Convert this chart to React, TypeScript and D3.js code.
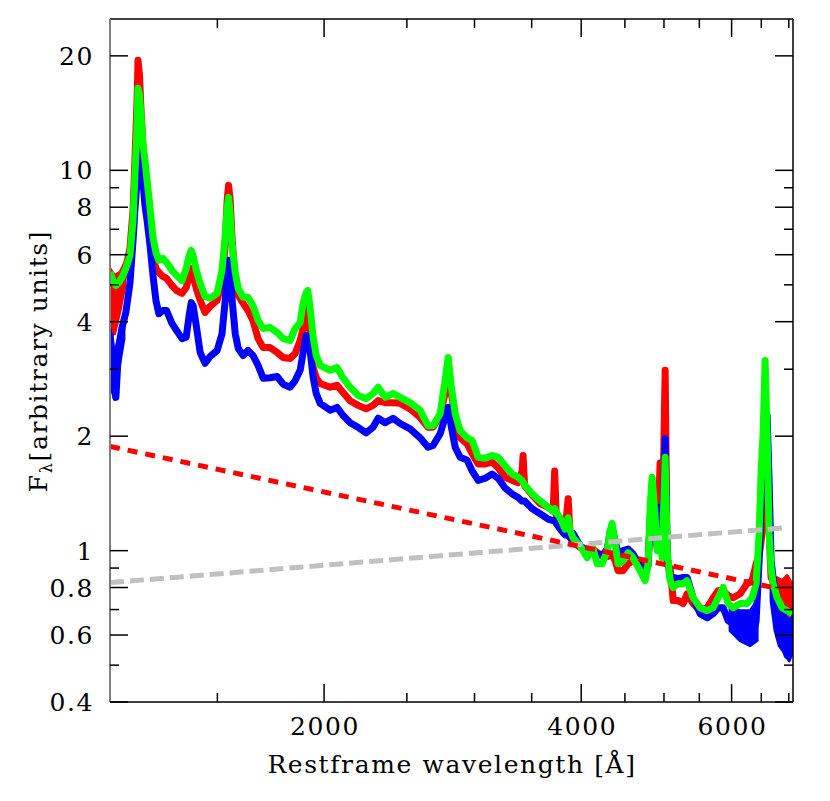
import * as d3 from "d3"

// Restframe wavelength grid [Å] shared by the three spectra
const wavelength = [
  1123, 1132, 1141, 1150, 1160, 1172, 1185, 1195, 1201, 1208, 1211, 1216, 1221, 1228, 1234, 1241,
  1251, 1261, 1271, 1281, 1295, 1308, 1327, 1344, 1364, 1379, 1390, 1398, 1405, 1417, 1432, 1451,
  1471, 1499, 1519, 1532, 1540, 1546, 1553, 1561, 1574, 1587, 1608, 1629, 1651, 1674, 1697, 1729,
  1762, 1791, 1825, 1850, 1875, 1890, 1906, 1914, 1926, 1942, 1958, 1979, 2033, 2071, 2104, 2145,
  2192, 2240, 2282, 2314, 2358, 2409, 2455, 2522, 2591, 2647, 2683, 2735, 2771, 2795, 2817, 2848,
  2886, 2941, 2981, 3030, 3088, 3146, 3198, 3259, 3321, 3375, 3411, 3420, 3434, 3504, 3581, 3659,
  3709, 3724, 3739, 3779, 3830, 3862, 3882, 3914, 3989, 4065, 4120, 4176, 4233, 4291, 4325, 4348,
  4384, 4419, 4478, 4539, 4600, 4688, 4752, 4791, 4817, 4843, 4883, 4910, 4948, 4975, 5016, 5043,
  5084, 5126, 5195, 5265, 5322, 5408, 5512, 5617, 5709, 5786, 5865, 5945, 6026, 6139, 6255, 6341,
  6410, 6462, 6497, 6532, 6567, 6603, 6638, 6674, 6710, 6783, 6876, 6970, 7065,
]

const redFlux = [
  4.69, 4.03, 4.41, 4.83, 5.13, 5.52, 6.24, 7.85, 10.62, 15.29, 19.48, 17.78, 14.38, 11.29, 9.7, 8.34,
  6.75, 5.97, 5.52, 5.39, 5.26, 5.2, 4.98, 4.83, 4.75, 4.92, 5.26, 5.52, 5.29, 4.89, 4.55, 4.23,
  4.39, 4.55, 5.13, 6.35, 8.34, 9.13, 8.34, 6.54, 5.13, 4.69, 4.47, 4.28, 4.03, 3.61, 3.42, 3.42,
  3.32, 3.22, 3.2, 3.3, 3.57, 3.84, 4.28, 4.36, 3.72, 3.03, 2.85, 2.75, 2.69, 2.72, 2.61, 2.48,
  2.41, 2.36, 2.41, 2.48, 2.45, 2.45, 2.44, 2.36, 2.24, 2.11, 2.11, 2.27, 2.59, 2.85, 2.61, 2.24,
  1.98, 1.91, 1.8, 1.69, 1.69, 1.71, 1.65, 1.56, 1.53, 1.51, 1.62, 1.78, 1.48, 1.4, 1.33, 1.3,
  1.27, 1.62, 1.24, 1.2, 1.13, 1.37, 1.1, 1.05, 1.02, 1.0, 1.01, 0.99, 0.97, 0.965, 0.97, 0.98,
  0.94, 0.886, 0.886, 0.924, 0.941, 0.93, 0.913, 0.941, 1.2, 1.48, 1.2, 1.01, 1.7, 1.03, 2.98, 0.924,
  0.9, 0.739, 0.739, 0.726, 0.77, 0.726, 0.695, 0.708, 0.752, 0.785, 0.785, 0.761, 0.752, 0.77, 0.819, 0.834,
  0.924, 0.97, 1.06, 1.2, 1.35, 1.31, 1.13, 0.85, 0.834, 0.739, 0.761, 0.695, 0.717,
]

const greenFlux = [
  5.4, 5.13, 4.98, 5.07, 5.23, 5.52, 5.97, 7.39, 9.7, 13.13, 16.44, 15.75, 13.95, 11.63, 10.62, 9.41,
  7.99, 6.67, 6.08, 5.8, 5.87, 5.73, 5.46, 5.29, 5.13, 5.52, 5.97, 6.16, 5.97, 5.46, 5.04, 4.66,
  4.61, 4.75, 5.46, 6.75, 7.94, 8.49, 7.61, 6.35, 5.39, 4.89, 4.64, 4.64, 4.41, 4.03, 3.84, 3.86,
  3.75, 3.61, 3.57, 3.84, 3.98, 4.47, 4.77, 4.83, 4.36, 3.64, 3.26, 3.07, 2.98, 3.03, 2.85, 2.69,
  2.56, 2.51, 2.59, 2.69, 2.53, 2.59, 2.53, 2.45, 2.34, 2.13, 2.13, 2.29, 2.8, 3.22, 2.72, 2.29,
  2.07, 1.98, 1.95, 1.76, 1.75, 1.78, 1.76, 1.67, 1.59, 1.56, 1.53, 1.51, 1.49, 1.41, 1.35, 1.3,
  1.27, 1.29, 1.26, 1.22, 1.14, 1.22, 1.13, 1.08, 1.03, 0.958, 1.03, 0.924, 0.924, 1.0, 1.13, 1.18,
  1.04, 0.924, 0.941, 0.988, 0.958, 0.886, 0.834, 0.924, 1.31, 1.56, 1.22, 1.0, 1.08, 0.958, 1.76, 1.0,
  0.834, 0.8, 0.819, 0.819, 0.834, 0.752, 0.708, 0.695, 0.708, 0.752, 0.8, 0.726, 0.708, 0.726, 0.726, 0.752,
  0.819, 1.11, 1.62, 2.03, 3.16, 2.03, 1.11, 0.9, 0.819, 0.752, 0.708, 0.695, 0.683,
]

const blueFlux = [
  3.72, 3.07, 2.53, 3.46, 3.86, 4.23, 5.04, 6.54, 7.85, 9.41, 10.31, 11.29, 11.29, 9.24, 8.09, 7.39,
  6.35, 5.29, 4.55, 4.2, 4.28, 4.28, 3.96, 3.79, 3.61, 3.64, 4.15, 4.49, 4.41, 3.91, 3.32, 3.11,
  3.24, 3.36, 3.72, 4.55, 5.46, 5.8, 5.4, 4.55, 3.72, 3.4, 3.26, 3.36, 3.26, 3.07, 2.84, 2.85,
  2.87, 2.74, 2.69, 2.8, 2.98, 3.32, 3.68, 3.61, 3.36, 2.85, 2.59, 2.44, 2.34, 2.38, 2.27, 2.17,
  2.11, 2.04, 2.11, 2.23, 2.17, 2.23, 2.16, 2.09, 1.98, 1.87, 1.89, 2.03, 2.24, 2.38, 2.13, 1.87,
  1.76, 1.73, 1.62, 1.53, 1.55, 1.59, 1.55, 1.46, 1.41, 1.38, 1.35, 1.35, 1.35, 1.29, 1.25, 1.21,
  1.2, 1.2, 1.18, 1.14, 1.1, 1.1, 1.08, 1.11, 1.03, 1.0, 1.0, 0.98, 0.97, 1.01, 1.12, 1.15,
  1.06, 0.98, 1.0, 1.01, 0.98, 0.913, 0.87, 0.913, 1.2, 1.44, 1.16, 1.03, 1.3, 1.0, 1.97, 0.97,
  0.85, 0.85, 0.844, 0.85, 0.85, 0.752, 0.683, 0.666, 0.683, 0.708, 0.708, 0.654, 0.643, 0.616, 0.627, 0.58,
  0.654, 0.941, 1.35, 1.83, 2.2, 2.27, 1.53, 0.941, 0.85, 0.666, 0.58, 0.53, 0.563,
]

// noisy ends of the spectra: upper / lower envelope of the scatter
const redLeftWave = [1123, 1137, 1154, 1169]
const redLeftHigh = [5.52, 5.29, 5.39, 5.73]
const redLeftLow = [3.68, 3.72, 4.28, 4.98]
const blueLeftWave = [1123, 1137, 1150, 1166]
const blueLeftHigh = [3.84, 3.3, 3.6, 4.1]
const blueLeftLow = [2.75, 2.5, 3.0, 3.6]
const redRightWave = [6710, 6783, 6876, 6970, 7080]
const redRightHigh = [0.849, 0.849, 0.834, 0.86, 0.809]
const redRightLow = [0.717, 0.695, 0.69, 0.687, 0.654]
const blueRightWave = [6674, 6746, 6820, 6913, 7007, 7080]
const blueRightHigh = [0.941, 0.739, 0.708, 0.687, 0.654, 0.675]
const blueRightLow = [0.739, 0.616, 0.563, 0.54, 0.513, 0.546]
const blueMidWave = [5976, 6139, 6307, 6427]
const blueMidHigh = [0.708, 0.695, 0.695, 0.739]
const blueMidLow = [0.616, 0.58, 0.563, 0.58]

// dashed reference lines (straight in log-log)
const powerLawWave = [1123, 6711]
const powerLawFlux = [1.88, 0.8]
const hostWave = [1123, 6970]
const hostFlux = [0.824, 1.15]

// axis ticks
const xMajorTicks = [2000, 4000, 6000]
const xMinorTicks = [1500, 2500, 3000, 3500, 4500, 5000, 5500, 6500, 7000]
const yMajorTicks = [0.4, 0.6, 0.8, 1, 2, 4, 6, 8, 10, 20]
const yMinorTicks = [0.5, 0.7, 0.9, 3, 5, 7, 9]

const FONT = "'DejaVu Serif', serif"

export default function App() {
  const left = 110
  const right = 793
  const top = 19
  const bottom = 702

  const x = d3.scaleLog().domain([1123, 7080]).range([left, right])
  const y = d3.scaleLog().domain([0.4, 25]).range([bottom, top])

  const line = d3
    .line<[number, number]>()
    .x((d) => x(d[0]))
    .y((d) => y(d[1]))

  const band = d3
    .area<[number, number, number]>()
    .x((d) => x(d[0]))
    .y0((d) => y(d[2]))
    .y1((d) => y(d[1]))

  const series = (flux: number[]) => wavelength.map((w, i) => [w, flux[i]] as [number, number])
  const pairs = (w: number[], f: number[]) => w.map((v, i) => [v, f[i]] as [number, number])
  const triples = (w: number[], hi: number[], lo: number[]) =>
    w.map((v, i) => [v, hi[i], lo[i]] as [number, number, number])

  const majorLen = 18
  const minorLen = 9
  const specWidth = 7

  return (
    <svg width={830} height={801} style={{ position: "absolute", left: 0, top: 0, background: "#fff" }}>
      <defs>
        <clipPath id="plot">
          <rect x={left} y={top} width={right - left} height={bottom - top} />
        </clipPath>
      </defs>

      <g clipPath="url(#plot)" strokeLinejoin="round">
        <path d={band(triples(redLeftWave, redLeftHigh, redLeftLow)) || ""} fill="#ff0000" stroke="#ff0000" strokeWidth={3} />
        <path d={band(triples(redRightWave, redRightHigh, redRightLow)) || ""} fill="#ff0000" stroke="#ff0000" strokeWidth={3} />
        <path d={line(series(redFlux)) || ""} fill="none" stroke="#ff0000" strokeWidth={specWidth} />
        <path d={band(triples(blueLeftWave, blueLeftHigh, blueLeftLow)) || ""} fill="#0000ff" stroke="#0000ff" strokeWidth={3} />
        <path d={band(triples(blueMidWave, blueMidHigh, blueMidLow)) || ""} fill="#0000ff" stroke="#0000ff" strokeWidth={3} />
        <path d={band(triples(blueRightWave, blueRightHigh, blueRightLow)) || ""} fill="#0000ff" stroke="#0000ff" strokeWidth={3} />
        <path d={line(series(blueFlux)) || ""} fill="none" stroke="#0000ff" strokeWidth={specWidth} />
        <path d={line(series(greenFlux)) || ""} fill="none" stroke="#00ff00" strokeWidth={specWidth} />
        <path
          d={line(pairs(hostWave, hostFlux)) || ""}
          fill="none"
          stroke="#c0c0c0"
          strokeWidth={5}
          strokeDasharray="14,6"
        />
        <path
          d={line(pairs(powerLawWave, powerLawFlux)) || ""}
          fill="none"
          stroke="#ff0000"
          strokeWidth={5}
          strokeDasharray="10,8"
        />
      </g>

      {/* frame */}
      <line x1={left} x2={right} y1={top} y2={top} stroke="#000" strokeWidth={1.5} />
      <line x1={left} x2={right} y1={bottom} y2={bottom} stroke="#000" strokeWidth={1.5} />
      <line x1={right} x2={right} y1={top} y2={bottom} stroke="#000" strokeWidth={1.5} />
      <line x1={left} x2={left} y1={top} y2={bottom} stroke="#808080" strokeWidth={2} />

      {/* ticks on all four sides */}
      <g stroke="#000" strokeWidth={1.5}>
        {xMajorTicks.map((t) => (
          <g key={"xM" + t}>
            <line x1={x(t)} x2={x(t)} y1={bottom} y2={bottom - majorLen} />
            <line x1={x(t)} x2={x(t)} y1={top} y2={top + majorLen} />
          </g>
        ))}
        {xMinorTicks.map((t) => (
          <g key={"xm" + t}>
            <line x1={x(t)} x2={x(t)} y1={bottom} y2={bottom - minorLen} />
            <line x1={x(t)} x2={x(t)} y1={top} y2={top + minorLen} />
          </g>
        ))}
        {yMajorTicks.map((t) => (
          <g key={"yM" + t}>
            <line x1={left} x2={left + majorLen} y1={y(t)} y2={y(t)} />
            <line x1={right} x2={right - majorLen} y1={y(t)} y2={y(t)} />
          </g>
        ))}
        {yMinorTicks.map((t) => (
          <g key={"ym" + t}>
            <line x1={left} x2={left + minorLen} y1={y(t)} y2={y(t)} />
            <line x1={right} x2={right - minorLen} y1={y(t)} y2={y(t)} />
          </g>
        ))}
      </g>

      {/* tick labels */}
      <g fontFamily={FONT} fontSize={25} letterSpacing={1.6} fill="#000">
        {xMajorTicks.map((t) => (
          <text key={"xl" + t} x={x(t) + 1} y={735} textAnchor="middle">
            {t}
          </text>
        ))}
        {yMajorTicks.map((t) => (
          <text key={"yl" + t} x={94} y={y(t)} dy="0.36em" textAnchor="end">
            {t}
          </text>
        ))}
      </g>

      {/* axis titles */}
      <text x={452} y={773} textAnchor="middle" fontFamily={FONT} fontSize={25} letterSpacing={1.6} fill="#000">
        Restframe wavelength [Å]
      </text>
      <text
        transform="rotate(-90)"
        x={-361}
        y={47}
        textAnchor="middle"
        fontFamily={FONT}
        fontSize={25}
        letterSpacing={1.6}
        fill="#000"
      >
        F
        <tspan fontSize={16} dy="0.3em">
          λ
        </tspan>
        <tspan dy="-0.2em">[arbitrary units]</tspan>
      </text>
    </svg>
  )
}
